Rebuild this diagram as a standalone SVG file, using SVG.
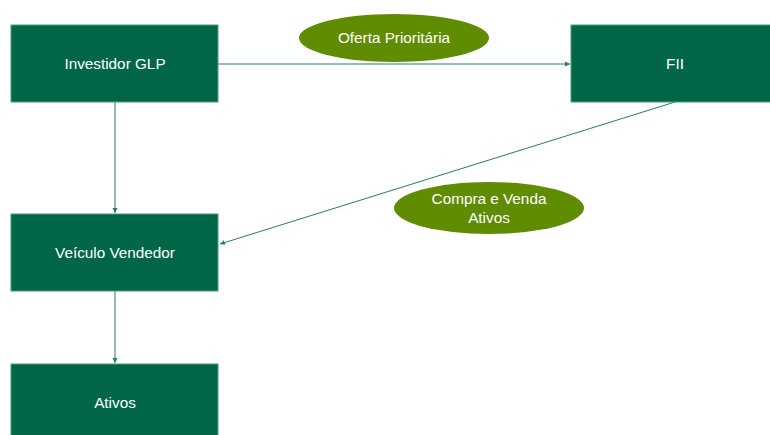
<svg xmlns="http://www.w3.org/2000/svg" width="770" height="435" viewBox="0 0 770 435">
<style>
.box{fill:#006647;stroke:#4c9c80;stroke-width:1}
.ell{fill:#5f8c00}
.t{font-family:"Liberation Sans",Arial,sans-serif;font-size:15.3px;fill:#ffffff;text-anchor:middle}
.c{stroke:#2a7d5f;stroke-width:1;fill:none;marker-end:url(#ah)}
</style>
<defs>
<marker id="ah" markerWidth="6" markerHeight="6" refX="5" refY="3" orient="auto" markerUnits="userSpaceOnUse">
<path d="M0,0.5 L5,3 L0,5.5 Z" fill="#2a7d5f"/>
</marker>
</defs>
<rect width="770" height="435" fill="#ffffff"/>
<g id="connectors">
<line class="c" x1="218" y1="64" x2="570" y2="64"/>
<line class="c" x1="115" y1="102" x2="115" y2="213"/>
<line class="c" x1="115" y1="291" x2="115" y2="363"/>
<line class="c" x1="675" y1="102" x2="220" y2="244"/>
</g>
<g id="label-oferta">
<ellipse class="ell" cx="394" cy="38" rx="95" ry="24"/>
<text class="t" x="394" y="43">Oferta Prioritária</text>
</g>
<g id="label-compra">
<ellipse class="ell" cx="489" cy="208" rx="95" ry="26"/>
<text class="t" x="489" y="204">Compra e Venda</text>
<text class="t" x="489" y="223">Ativos</text>
</g>
<g id="investidor">
<rect class="box" x="11" y="25" width="207" height="77"/>
<text class="t" x="115" y="69">Investidor GLP</text>
</g>
<g id="fii">
<rect class="box" x="571" y="25" width="208" height="77"/>
<text class="t" x="675" y="69">FII</text>
</g>
<g id="veiculo">
<rect class="box" x="11" y="214" width="207" height="77"/>
<text class="t" x="115" y="258">Veículo Vendedor</text>
</g>
<g id="ativos">
<rect class="box" x="11" y="364" width="207" height="77"/>
<text class="t" x="115" y="408">Ativos</text>
</g>
</svg>
